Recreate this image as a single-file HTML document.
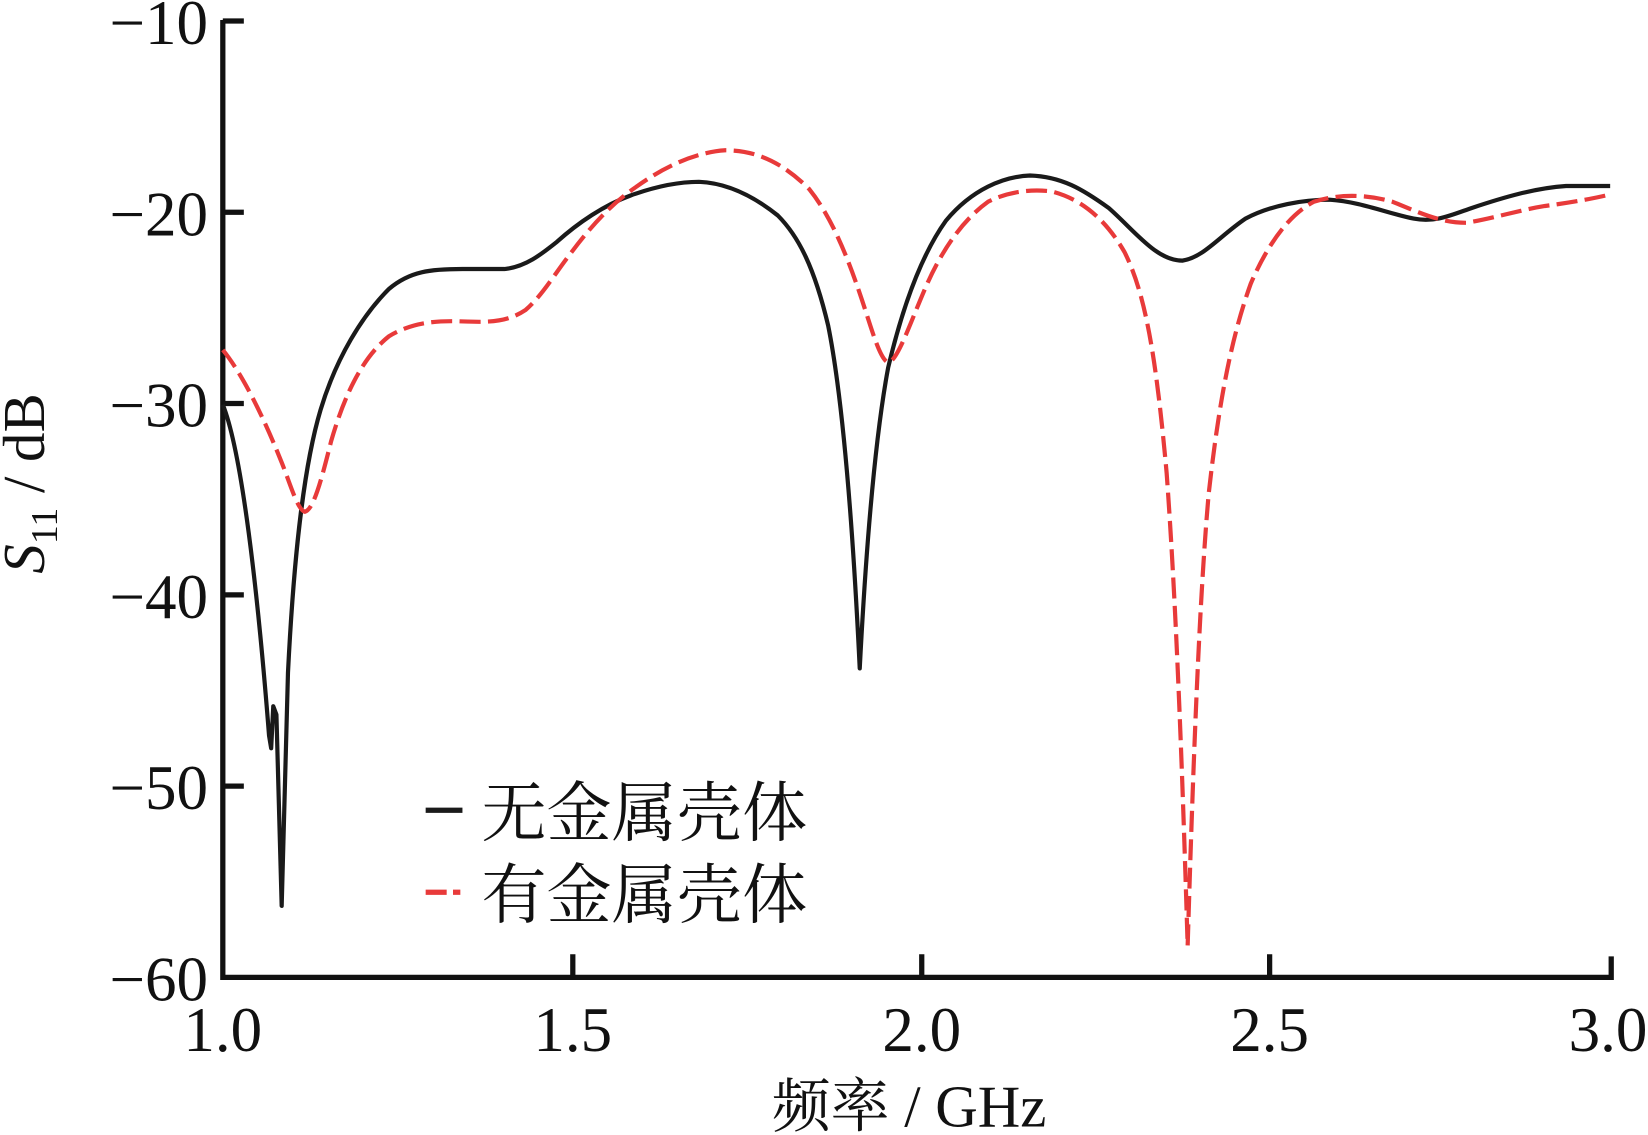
<!DOCTYPE html>
<html><head><meta charset="utf-8"><style>
html,body{margin:0;padding:0;background:#fff;}
svg{display:block;}
text{font-family:"Liberation Serif","Noto Serif CJK SC",serif;fill:#111;}
</style></head><body>
<svg width="1648" height="1135" viewBox="0 0 1568 1080" preserveAspectRatio="none" xmlns="http://www.w3.org/2000/svg">
<rect width="1568" height="1080" fill="#fff"/>
<path d="M212,19 V930 H1533 V910" fill="none" stroke="#111" stroke-width="5"/>
<g stroke="#111" stroke-width="5">
<line x1="212" y1="20" x2="232" y2="20"/>
<line x1="212" y1="202" x2="232" y2="202"/>
<line x1="212" y1="384" x2="232" y2="384"/>
<line x1="212" y1="566" x2="232" y2="566"/>
<line x1="212" y1="748" x2="232" y2="748"/>
<line x1="545" y1="930" x2="545" y2="908"/>
<line x1="877" y1="930" x2="877" y2="908"/>
<line x1="1208" y1="930" x2="1208" y2="908"/>
</g>
<g font-size="60" text-anchor="end">
<text x="198" y="42">−10</text>
<text x="198" y="224">−20</text>
<text x="198" y="406">−30</text>
<text x="198" y="588">−40</text>
<text x="198" y="770">−50</text>
<text x="198" y="952">−60</text>
</g>
<g font-size="60" text-anchor="middle">
<text x="212" y="1000">1.0</text>
<text x="545" y="1000">1.5</text>
<text x="877" y="1000">2.0</text>
<text x="1208" y="1000">2.5</text>
<text x="1530" y="1000">3.0</text>
</g>
<text x="865" y="1072" font-size="56" text-anchor="middle">频率 / GHz</text>
<g transform="translate(42,460) rotate(-90)">
<text x="0" y="0" font-size="56" text-anchor="middle"><tspan font-style="italic">S</tspan><tspan font-size="36" dy="12">11</tspan><tspan dy="-12"> / dB</tspan></text>
</g>
<path fill="none" stroke="#1a1a1a" stroke-width="4" stroke-linejoin="round" d="M212,385 C230,430 245,560 256,700 L258,712 L260,672 L263,680 L268,862 L274,640 C280,520 290,440 305,390 C320,340 345,300 370,275 C390,258 410,256 440,256 L480,256 C500,254 515,242 530,230 C550,212 575,195 600,186 C625,177 645,173 665,173 C690,174 715,185 740,205 C760,225 775,255 788,310 C800,370 810,470 818,636 C824,520 832,420 845,350 C858,295 875,245 900,210 C925,180 955,168 980,167 C1010,168 1030,180 1055,198 C1080,220 1100,248 1125,248 C1145,245 1160,225 1185,208 C1210,195 1240,190 1265,190 C1295,192 1320,203 1345,208 C1365,212 1380,205 1400,198 C1430,188 1460,179 1490,177 L1532,177"/>
<path fill="none" stroke="#e83a3a" stroke-width="4" stroke-dasharray="20,7" stroke-linejoin="round" d="M212,333 C230,355 250,395 268,440 C276,460 283,485 290,487 C298,485 305,460 315,420 C328,375 345,340 370,320 C395,305 420,305 445,306 C470,307 485,305 500,295 C515,282 525,265 540,245 C560,218 580,195 605,178 C630,160 660,145 690,143 C720,143 745,155 770,180 C790,205 805,240 820,285 C830,315 838,345 846,345 C855,340 865,310 880,275 C895,240 915,210 940,192 C960,182 980,180 1000,182 C1025,188 1050,205 1070,240 C1090,280 1100,340 1110,450 C1118,560 1124,700 1130,900 C1136,700 1142,560 1150,470 C1160,380 1172,320 1190,270 C1205,235 1225,205 1250,192 C1275,184 1300,185 1325,192 C1350,202 1370,212 1395,212 C1420,208 1445,200 1470,196 C1500,192 1520,188 1532,185"/>
<line x1="405" y1="771" x2="440" y2="771" stroke="#1a1a1a" stroke-width="5"/>
<text x="458" y="795" font-size="62">无金属壳体</text>
<line x1="405" y1="849" x2="425" y2="849" stroke="#e83a3a" stroke-width="5"/>
<line x1="431" y1="849" x2="438" y2="849" stroke="#e83a3a" stroke-width="5"/>
<text x="458" y="873" font-size="62">有金属壳体</text>
</svg>
</body></html>
